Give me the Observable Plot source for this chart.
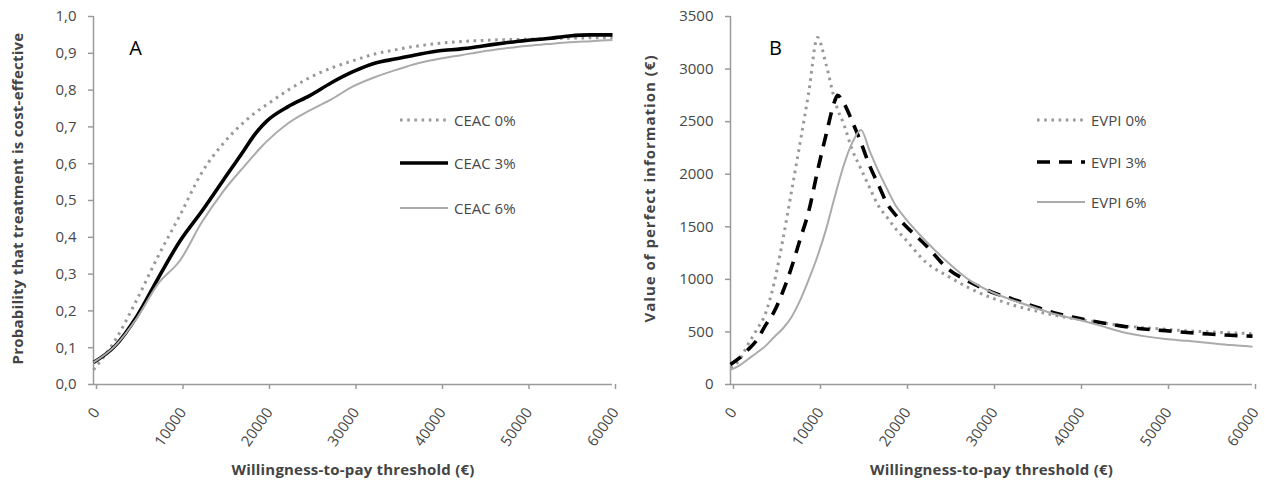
<!DOCTYPE html>
<html><head><meta charset="utf-8">
<script src="https://cdn.jsdelivr.net/npm/d3@7"></script>
<script src="https://cdn.jsdelivr.net/npm/@observablehq/plot@0.6"></script>
<style>
body{margin:0;background:#fff;}
#wrap{position:relative;width:1265px;height:481px;overflow:hidden;font-family:"Open Sans",sans-serif;background:#fff;}
#wrap svg.panel{position:absolute;top:0;}
g[aria-label="x-axis tick"], g[aria-label="y-axis tick"]{stroke:#9a9a9a;stroke-width:1.5;}
.leg{position:absolute;display:flex;align-items:center;font-size:15px;color:#484848;white-space:nowrap;height:20px;}
.leg svg{margin-right:6px;}
</style></head>
<body><div id="wrap"></div>
<script>
// ---- Panel A: cost-effectiveness acceptability curves ----
const wtpA = [0, 2500, 5000, 7500, 10000, 12500, 15000, 17500, 18500, 19500, 20000, 22500, 25000, 27500, 30000, 32500, 35000, 37500, 40000, 42500, 45000, 47500, 50000, 52500, 55000, 57500, 60000];
const ceac0 = [0.04, 0.12, 0.23, 0.35, 0.46, 0.575, 0.655, 0.715, 0.735, 0.752, 0.76, 0.80, 0.834, 0.86, 0.88, 0.898, 0.91, 0.92, 0.927, 0.932, 0.935, 0.937, 0.938, 0.94, 0.941, 0.942, 0.942];
const ceac3 = [0.06, 0.105, 0.185, 0.29, 0.39, 0.47, 0.555, 0.64, 0.675, 0.703, 0.715, 0.755, 0.785, 0.82, 0.85, 0.873, 0.885, 0.897, 0.907, 0.912, 0.92, 0.928, 0.935, 0.94, 0.947, 0.95, 0.95];
const ceac6 = [0.06, 0.105, 0.18, 0.275, 0.337, 0.44, 0.525, 0.595, 0.622, 0.648, 0.66, 0.71, 0.745, 0.775, 0.81, 0.835, 0.855, 0.873, 0.885, 0.895, 0.905, 0.913, 0.92, 0.925, 0.93, 0.933, 0.936];
const ceacNames = ["CEAC 0%", "CEAC 3%", "CEAC 6%"];

// ---- Panel B: expected value of perfect information ----
const wtpB = [0, 1000, 2000, 3000, 4000, 5000, 6000, 7000, 8000, 9000, 10000, 11000, 12000, 12300, 13000, 14000, 15000, 16000, 17000, 18000, 19000, 20000, 22500, 25000, 27500, 30000, 32500, 35000, 37500, 40000, 42500, 45000, 47500, 50000, 52500, 55000, 57500, 60000];
const evpi0 = [160, 230, 380, 520, 670, 960, 1370, 1830, 2300, 2780, 3300, 3040, 2700, 2620, 2480, 2230, 2050, 1870, 1700, 1590, 1480, 1390, 1160, 1030, 915, 825, 755, 700, 655, 620, 590, 560, 540, 525, 510, 500, 492, 485];
const evpi3 = [190, 250, 330, 420, 560, 690, 880, 1110, 1380, 1650, 2030, 2380, 2700, 2750, 2680, 2500, 2300, 2080, 1900, 1720, 1610, 1520, 1320, 1100, 975, 880, 810, 740, 675, 630, 590, 555, 528, 512, 495, 480, 468, 460];
const evpi6 = [140, 180, 240, 300, 365, 450, 530, 640, 800, 1000, 1220, 1480, 1790, 1880, 2080, 2300, 2420, 2220, 2030, 1860, 1700, 1590, 1360, 1160, 990, 880, 800, 730, 665, 615, 560, 500, 460, 432, 415, 395, 375, 360];
const evpiNames = ["EVPI 0%", "EVPI 3%", "EVPI 6%"];

const xTicks = [0, 10000, 20000, 30000, 40000, 50000, 60000];
const yTicksA = [0, 0.1, 0.2, 0.3, 0.4, 0.5, 0.6, 0.7, 0.8, 0.9, 1.0];
const yTicksB = [0, 500, 1000, 1500, 2000, 2500, 3000, 3500];
const xTitle = "Willingness-to-pay threshold (€)";
const yTitleA = "Probability that treatment is cost-effective";
const yTitleB = "Value of perfect information (€)";

// series styles (index-aligned with names)
const stylesA = [
  {stroke: "#999", strokeWidth: 3, dash: "2.6,4.6"},
  {stroke: "#000", strokeWidth: 3.6, dash: null},
  {stroke: "#ababab", strokeWidth: 2, dash: null}
];
const stylesB = [
  {stroke: "#999", strokeWidth: 3, dash: "2.6,4.6"},
  {stroke: "#000", strokeWidth: 3.6, dash: "13,9"},
  {stroke: "#ababab", strokeWidth: 2, dash: null}
];

const tableA = [ceac0, ceac3, ceac6].map((vals, s) => wtpA.map((x, i) => ({x, y: vals[i], s})));
const tableB = [evpi0, evpi3, evpi6].map((vals, s) => wtpB.map((x, i) => ({x, y: vals[i], s})));

const commaFmt = d => d.toFixed(1).replace(".", ",");
const axisGray = "#9a9a9a";

function panel({width, marginLeft, marginRight, yDomain, yTicks, yFmt, table, styles, yTitle, yTitleDy, yTitleSpacing, letter, letterDx}) {
  const marks = [
    Plot.ruleY([yDomain[0]], {stroke: axisGray, strokeWidth: 1.5}),
    Plot.ruleX([0], {stroke: axisGray, strokeWidth: 1.5}),
    Plot.axisY({ticks: yTicks, tickSize: 5, tickPadding: 12, tickFormat: yFmt, label: null, fontSize: 15}),
    Plot.axisX({ticks: xTicks, tickSize: 5, tickPadding: 20, dx: 3, tickRotate: -55, lineAnchor: "middle", tickFormat: d => String(d), label: null, fontSize: 15}),
  ];
  table.forEach((rows, s) => {
    const st = styles[s];
    marks.push(Plot.line(rows, {x: "x", y: "y", stroke: st.stroke, strokeWidth: st.strokeWidth,
      strokeDasharray: st.dash ?? undefined, curve: "monotone-x", strokeLinecap: "butt", strokeLinejoin: "round"}));
  });
  marks.push(Plot.text([xTitle], {frameAnchor: "bottom", dy: 86, fontWeight: "bold", fontSize: 15, fill: "#444", lineAnchor: "middle", textAnchor: "middle"}));
  marks.push(Plot.text([yTitle], {frameAnchor: "left", dx: -(marginLeft - 18), dy: yTitleDy, rotate: -90, fontWeight: "bold", fontSize: 15, fill: "#444", lineAnchor: "middle", textAnchor: "middle"}));
  marks.push(Plot.text([letter], {frameAnchor: "top-left", dx: letterDx, dy: 32, fontSize: 20, fill: "#000", lineAnchor: "middle", textAnchor: "middle"}));
  const svg = Plot.plot({
    width, height: 481,
    marginLeft, marginRight, marginTop: 16, marginBottom: 97,
    x: {domain: [0, 60000]},
    y: {domain: yDomain},
    style: {fontFamily: "'Open Sans', sans-serif", fontSize: "15px", color: "#484848", background: "transparent", overflow: "visible"},
    marks
  });
  svg.classList.add("panel");
  // letter spacing for the rotated y title (last-but-one text mark)
  const texts = svg.querySelectorAll('g[aria-label="text"]');
  if (texts.length >= 3) {
    texts[0].style.letterSpacing = "0.2px";
    texts[1].style.letterSpacing = yTitleSpacing;
  }
  return svg;
}

const wrap = document.getElementById("wrap");
const svgA = panel({width: 632, marginLeft: 93, marginRight: 20, yDomain: [0, 1], yTicks: yTicksA, yFmt: commaFmt,
  table: tableA, styles: stylesA, yTitle: yTitleA, yTitleDy: -2, yTitleSpacing: "0.25px", letter: "A", letterDx: 42});
svgA.style.left = "0px";
const svgB = panel({width: 633, marginLeft: 98, marginRight: 13, yDomain: [0, 3500], yTicks: yTicksB, yFmt: d => String(d),
  table: tableB, styles: stylesB, yTitle: yTitleB, yTitleDy: -12, yTitleSpacing: "1px", letter: "B", letterDx: 45});
svgB.style.left = "632px";
wrap.appendChild(svgA);
wrap.appendChild(svgB);

// legends (HTML overlay)
function legend(names, styles, left, tops) {
  names.forEach((name, i) => {
    const st = styles[i];
    const row = document.createElement("div");
    row.className = "leg";
    row.style.left = left + "px";
    row.style.top = (tops[i] - 10) + "px";
    const ns = "http://www.w3.org/2000/svg";
    const sw = document.createElementNS(ns, "svg");
    sw.setAttribute("width", 48); sw.setAttribute("height", 8);
    const ln = document.createElementNS(ns, "line");
    ln.setAttribute("x1", 0); ln.setAttribute("x2", 48); ln.setAttribute("y1", 4); ln.setAttribute("y2", 4);
    ln.setAttribute("stroke", st.stroke); ln.setAttribute("stroke-width", st.strokeWidth);
    if (st.dash) ln.setAttribute("stroke-dasharray", st.dash);
    sw.appendChild(ln);
    row.appendChild(sw);
    const t = document.createElement("span");
    t.textContent = name;
    row.appendChild(t);
    wrap.appendChild(row);
  });
}
legend(ceacNames, stylesA, 400, [120, 163, 208]);
legend(evpiNames, stylesB, 1037, [120, 162, 202]);
</script>
</body></html>
